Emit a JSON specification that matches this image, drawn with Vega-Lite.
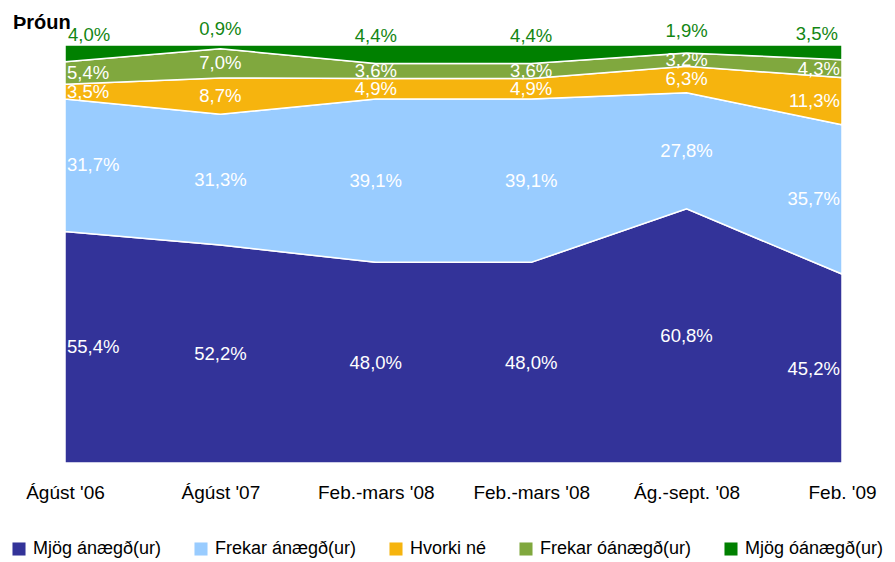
{
  "$schema": "https://vega.github.io/schema/vega-lite/v6.json",
  "autosize": "none",
  "width": 777,
  "height": 418,
  "padding": {"left": 65, "top": 45, "right": 53, "bottom": 99},
  "background": "white",
  "title": {"text": "Þróun", "anchor": "start", "frame": "group", "orient": "top", "dx": -52, "offset": -29, "baseline": "alphabetic", "fontSize": 20, "fontWeight": "bold", "font": "Liberation Sans", "color": "#000000"},
  "config": {
    "locale": {"number": {"decimal": ",", "thousands": ".", "grouping": [3], "currency": ["", " kr."]}},
    "view": {"stroke": null},
    "font": "Liberation Sans"
  },
  "data": {"values": [
    {"i": 0, "cat": "Mjög ánægð(ur)", "o": 0, "v": 0.554},
    {"i": 0, "cat": "Frekar ánægð(ur)", "o": 1, "v": 0.317},
    {"i": 0, "cat": "Hvorki né", "o": 2, "v": 0.035},
    {"i": 0, "cat": "Frekar óánægð(ur)", "o": 3, "v": 0.054},
    {"i": 0, "cat": "Mjög óánægð(ur)", "o": 4, "v": 0.040},
    {"i": 1, "cat": "Mjög ánægð(ur)", "o": 0, "v": 0.522},
    {"i": 1, "cat": "Frekar ánægð(ur)", "o": 1, "v": 0.313},
    {"i": 1, "cat": "Hvorki né", "o": 2, "v": 0.087},
    {"i": 1, "cat": "Frekar óánægð(ur)", "o": 3, "v": 0.070},
    {"i": 1, "cat": "Mjög óánægð(ur)", "o": 4, "v": 0.009},
    {"i": 2, "cat": "Mjög ánægð(ur)", "o": 0, "v": 0.480},
    {"i": 2, "cat": "Frekar ánægð(ur)", "o": 1, "v": 0.391},
    {"i": 2, "cat": "Hvorki né", "o": 2, "v": 0.049},
    {"i": 2, "cat": "Frekar óánægð(ur)", "o": 3, "v": 0.036},
    {"i": 2, "cat": "Mjög óánægð(ur)", "o": 4, "v": 0.044},
    {"i": 3, "cat": "Mjög ánægð(ur)", "o": 0, "v": 0.480},
    {"i": 3, "cat": "Frekar ánægð(ur)", "o": 1, "v": 0.391},
    {"i": 3, "cat": "Hvorki né", "o": 2, "v": 0.049},
    {"i": 3, "cat": "Frekar óánægð(ur)", "o": 3, "v": 0.036},
    {"i": 3, "cat": "Mjög óánægð(ur)", "o": 4, "v": 0.044},
    {"i": 4, "cat": "Mjög ánægð(ur)", "o": 0, "v": 0.608},
    {"i": 4, "cat": "Frekar ánægð(ur)", "o": 1, "v": 0.278},
    {"i": 4, "cat": "Hvorki né", "o": 2, "v": 0.063},
    {"i": 4, "cat": "Frekar óánægð(ur)", "o": 3, "v": 0.032},
    {"i": 4, "cat": "Mjög óánægð(ur)", "o": 4, "v": 0.019},
    {"i": 5, "cat": "Mjög ánægð(ur)", "o": 0, "v": 0.452},
    {"i": 5, "cat": "Frekar ánægð(ur)", "o": 1, "v": 0.357},
    {"i": 5, "cat": "Hvorki né", "o": 2, "v": 0.113},
    {"i": 5, "cat": "Frekar óánægð(ur)", "o": 3, "v": 0.043},
    {"i": 5, "cat": "Mjög óánægð(ur)", "o": 4, "v": 0.035}
  ]},
  "transform": [
    {"stack": "v", "groupby": ["i"], "sort": [{"field": "o", "order": "ascending"}], "offset": "normalize", "as": ["y0", "y1"]},
    {"calculate": "(datum.y0 + datum.y1) / 2", "as": "ym"}
  ],
  "layer": [
    {
      "mark": {"type": "area", "stroke": "white", "strokeWidth": 1.5, "interpolate": "linear"},
      "encoding": {
        "x": {"field": "i", "type": "quantitative", "scale": {"domain": [0, 5], "nice": false, "zero": false},
              "axis": {"values": [0, 1, 2, 3, 4, 5], "domain": false, "ticks": false, "grid": false, "title": null,
                       "labelFont": "Liberation Sans", "labelFontSize": 19, "labelColor": "#000000", "labelPadding": 20, "labelFlush": false,
                       "labelExpr": "['Ágúst \\'06','Ágúst \\'07','Feb.-mars \\'08','Feb.-mars \\'08','Ág.-sept. \\'08','Feb. \\'09'][datum.value]"}},
        "y": {"field": "y0", "type": "quantitative", "scale": {"domain": [0, 1], "nice": false}, "axis": null},
        "y2": {"field": "y1"},
        "color": {"field": "cat", "type": "nominal",
                  "scale": {"domain": ["Mjög ánægð(ur)", "Frekar ánægð(ur)", "Hvorki né", "Frekar óánægð(ur)", "Mjög óánægð(ur)"],
                            "range": ["#333399", "#99CCFF", "#F6B40E", "#80A83E", "#008000"]},
                  "legend": {"orient": "none", "legendX": -55, "legendY": 495, "direction": "horizontal", "title": null,
                             "symbolType": "square", "symbolSize": 170, "symbolStrokeWidth": 0, "labelFontSize": 18, "labelFont": "Liberation Sans",
                             "labelColor": "#000000", "columnPadding": 30, "labelOffset": 5, "padding": 0, "labelLimit": 300}},
        "order": {"field": "o", "type": "quantitative"}
      }
    },
    {
      "transform": [{"filter": "datum.o < 4 && datum.i == 0"}],
      "mark": {"type": "text", "align": "left", "baseline": "middle", "dx": 2, "fontSize": 18.5, "color": "white"},
      "encoding": {
        "x": {"field": "i", "type": "quantitative"},
        "y": {"field": "ym", "type": "quantitative"},
        "text": {"field": "v", "type": "quantitative", "format": ".1%"}
      }
    },
    {
      "transform": [{"filter": "datum.o < 4 && datum.i > 0 && datum.i < 5"}],
      "mark": {"type": "text", "align": "center", "baseline": "middle", "fontSize": 18.5, "color": "white"},
      "encoding": {
        "x": {"field": "i", "type": "quantitative"},
        "y": {"field": "ym", "type": "quantitative"},
        "text": {"field": "v", "type": "quantitative", "format": ".1%"}
      }
    },
    {
      "transform": [{"filter": "datum.o < 4 && datum.i == 5"}],
      "mark": {"type": "text", "align": "right", "baseline": "middle", "dx": -2, "fontSize": 18.5, "color": "white"},
      "encoding": {
        "x": {"field": "i", "type": "quantitative"},
        "y": {"field": "ym", "type": "quantitative"},
        "text": {"field": "v", "type": "quantitative", "format": ".1%"}
      }
    },
    {
      "transform": [{"filter": "datum.o == 4 && datum.i == 0"}],
      "mark": {"type": "text", "align": "left", "baseline": "middle", "dx": 3, "dy": -18, "fontSize": 18.5, "color": "#138613"},
      "encoding": {
        "x": {"field": "i", "type": "quantitative"},
        "y": {"field": "ym", "type": "quantitative"},
        "text": {"field": "v", "type": "quantitative", "format": ".1%"}
      }
    },
    {
      "transform": [{"filter": "datum.o == 4 && datum.i > 0 && datum.i < 5"}],
      "mark": {"type": "text", "align": "center", "baseline": "middle", "dy": -18, "fontSize": 18.5, "color": "#138613"},
      "encoding": {
        "x": {"field": "i", "type": "quantitative"},
        "y": {"field": "ym", "type": "quantitative"},
        "text": {"field": "v", "type": "quantitative", "format": ".1%"}
      }
    },
    {
      "transform": [{"filter": "datum.o == 4 && datum.i == 5"}],
      "mark": {"type": "text", "align": "right", "baseline": "middle", "dx": -4, "dy": -18, "fontSize": 18.5, "color": "#138613"},
      "encoding": {
        "x": {"field": "i", "type": "quantitative"},
        "y": {"field": "ym", "type": "quantitative"},
        "text": {"field": "v", "type": "quantitative", "format": ".1%"}
      }
    }
  ]
}
